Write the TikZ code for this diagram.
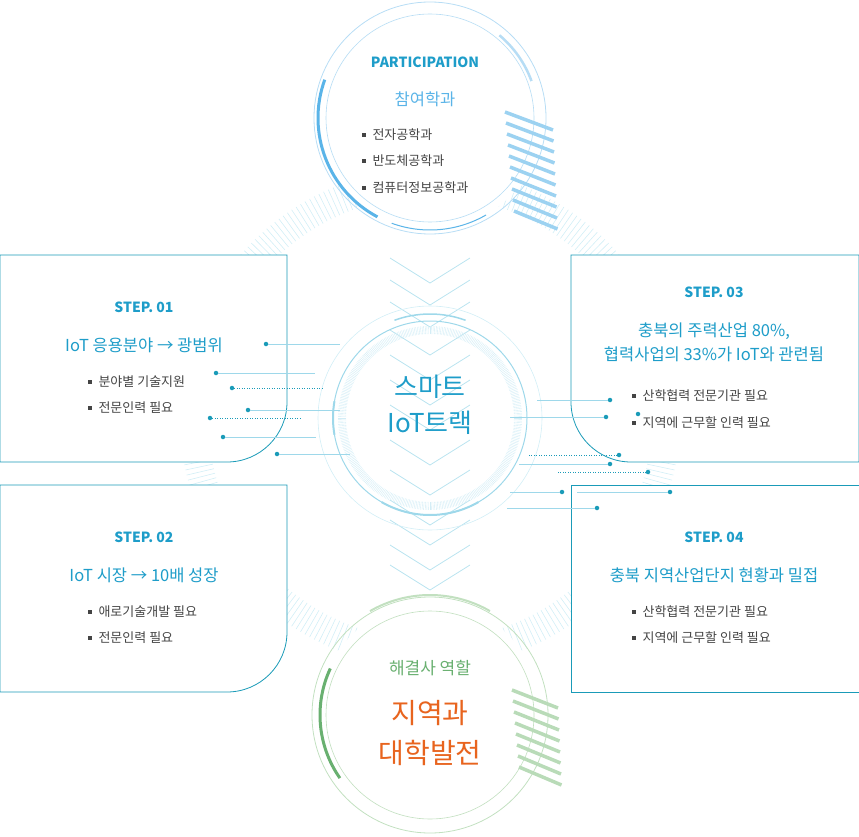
\documentclass[tikz,border=0pt]{standalone}
\usepackage{fontspec}
\setmainfont{Noto Sans CJK KR}
\usetikzlibrary{calc}
\definecolor{teal1}{HTML}{1A9BB8}
\definecolor{tbl}{HTML}{1E9DC9}
\definecolor{lb}{HTML}{9ED8EA}
\definecolor{vlb}{HTML}{D2EEF6}
\definecolor{pblue}{HTML}{5AB4E8}
\definecolor{pl}{HTML}{B7DDF5}
\definecolor{gr}{HTML}{69B070}
\definecolor{grl}{HTML}{C2E0C0}
\definecolor{org}{HTML}{E8641E}
\definecolor{txt}{HTML}{444444}
\tikzset{
 box/.style={draw=teal1,line width=0.8pt,fill=white},
 stept/.style={font=\bfseries\fontsize{14}{17}\selectfont,text=tbl},
 subt/.style={font=\fontsize{16.5}{24}\selectfont,text=tbl,align=center},
 bul/.style={font=\fontsize{13}{16}\selectfont,text=txt,anchor=west},
 cn/.style={lb,line width=0.8pt},
 cnd/.style={teal1,line width=0.5pt,dotted},
 dot/.style={circle,fill=teal1,inner sep=0pt,minimum size=4.5pt},
}
\newcommand{\bl}[1]{\raisebox{3pt}{\rule{4pt}{4pt}}\hspace{7pt}#1}
\begin{document}
\begin{tikzpicture}[x=1pt,y=-1pt]
\useasboundingbox (0,0) rectangle (859,837);
% big hatched ring
\foreach \a in {0,1.2,...,359} \draw[vlb,line width=0.6pt] ($(430,418)+(\a:222)$) -- ($(430,418)+(\a:250)$);
% chevrons
\foreach \y in {258,280,302,330,355,380,405,440,470,500,520,545,565}
 \draw[lb!70,line width=0.8pt] (390,\y) -- (430,\y+25) -- (470,\y);
% top circle
\fill[white] (430,118) circle (112);
\draw[pl,line width=0.8pt] (430,118) circle (116);
\draw[pl,line width=0.6pt] (430,118) circle (104);
\draw[pblue,line width=3pt] ($(430,118)+(200:112)$) arc (200:118:112);
\draw[pblue,line width=1pt] ($(430,118)+(110:112)$) arc (110:60:112);
\draw[pl,line width=2.5pt] ($(430,118)+(-20:108)$) arc (-20:-50:108);
\foreach \i in {0,...,9} \draw[pblue!60,line width=3.5pt] (505+\i*1,112+\i*11) -- (553+\i*0.5,130+\i*11);
% bottom circle
\fill[white] (430,715) circle (112);
\draw[grl,line width=0.8pt] (430,715) circle (118);
\draw[grl,line width=0.6pt] (430,715) circle (104);
\draw[gr,line width=3pt] ($(430,715)+(205:110)$) arc (205:145:110);
\draw[grl,line width=2pt] ($(430,715)+(240:120)$) arc (240:300:120);
\foreach \i in {0,...,7} \draw[grl!90!gr,line width=3.5pt] (512+\i*1,690+\i*11) -- (558+\i*0.5,708+\i*11);
% center circle
\draw[vlb,line width=0.6pt] (430,418) circle (112);
\foreach \a in {0,1,...,359} \draw[lb!45,line width=0.4pt] ($(430,418)+(\a:84)$) -- ($(430,418)+(\a:92)$);
\draw[lb,line width=1pt] (430,418) circle (97);
\draw[lb,line width=2pt] ($(430,418)+(190:97)$) arc (190:170:97);
\draw[lb,line width=2pt] ($(430,418)+(60:97)$) arc (60:120:97);
\draw[lb,line width=1.5pt] ($(430,418)+(250:104)$) arc (250:290:104);
% boxes
\draw[box] (0,255) -- (287,255) -- (287,402) arc (0:90:60) -- (0,462) -- cycle;
\draw[box] (0,485) -- (287,485) -- (287,632) arc (0:90:60) -- (0,692) -- cycle;
\draw[box] (859,255) -- (571,255) -- (571,402) arc (180:90:60) -- (859,462) -- cycle;
\draw[box] (571,485) rectangle (859,692);
% texts
\node[stept] (pt) at (425,62) {PARTICIPATION};
\node[font=\fontsize{16.5}{20}\selectfont,text=pblue] (pk) at (425,99) {참여학과};
\node[bul] at (358,135) {\bl{전자공학과}};
\node[bul] at (358,161) {\bl{반도체공학과}};
\node[bul] at (358,188) {\bl{컴퓨터정보공학과}};
\node[font=\fontsize{26}{36}\selectfont,text=tbl,align=center] (ct) at (430,405) {스마트\\IoT트랙};
\node[font=\fontsize{17}{20}\selectfont,text=gr] at (430,668) {해결사 역할};
\node[font=\fontsize{28}{40}\selectfont,text=org,align=center] at (430,733) {지역과\\대학발전};
\node[stept] at (144,307) {STEP. 01};
\node[subt] (s1) at (144,345) {IoT 응용분야 → 광범위};
\node[bul] at (84,382) {\bl{분야별 기술지원}};
\node[bul] at (84,408) {\bl{전문인력 필요}};
\node[stept] at (144,537) {STEP. 02};
\node[subt] at (144,575) {IoT 시장 → 10배 성장};
\node[bul] at (84,612) {\bl{애로기술개발 필요}};
\node[bul] at (84,638) {\bl{전문인력 필요}};
\node[stept] at (714,292) {STEP. 03};
\node[subt] at (714,342) {충북의 주력산업 80\%,\\협력사업의 33\%가 IoT와 관련됨};
\node[bul] at (628,396) {\bl{산학협력 전문기관 필요}};
\node[bul] at (628,423) {\bl{지역에 근무할 인력 필요}};
\node[stept] at (714,537) {STEP. 04};
\node[subt] at (714,575) {충북 지역산업단지 현황과 밀접};
\node[bul] at (628,612) {\bl{산학협력 전문기관 필요}};
\node[bul] at (628,638) {\bl{지역에 근무할 인력 필요}};
% connectors
\foreach \n/\x/\y/\e/\s in {a/266/344/340/cn,b/216/373/315/cn,c/232/388/322/cnd,d/248/410/340/cn,e/210/418/300/cnd,f/223/437/316/cn,g/277/454/350/cn,
  h/610/400/537/cn,i/606/417/510/cn,j/619/455/529/cnd,k/610/464/519/cn,l/648/472/556/cnd,m/562/492/510/cn,n/670/492/577/cn,o/597/508/507/cn}{
  \node[dot] (d\n) at (\x,\y) {};
  \coordinate (e\n) at (\e,\y);
  \draw[\s] (d\n) -- (e\n);
}
\node[dot] (dp) at (638,414) {};
\end{tikzpicture}
\end{document}
